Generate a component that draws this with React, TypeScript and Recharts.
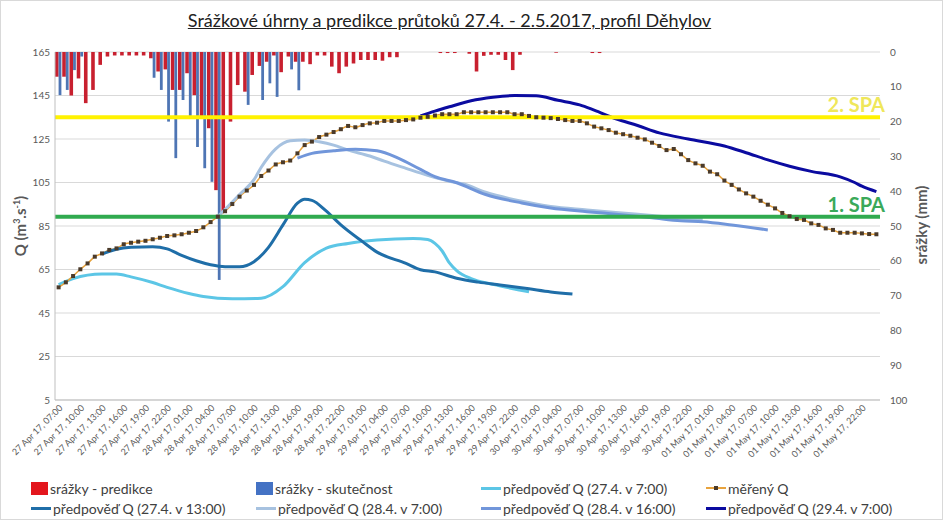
import { ComposedChart, Bar, Line, XAxis, YAxis, CartesianGrid, ReferenceLine } from 'recharts';

// hourly categories starting 27.4. 7:00, ending 2.5. 0:00
const DAYS = ['27 Apr 17', '28 Apr 17', '29 Apr 17', '30 Apr 17', '01 May 17', '02 May 17'];
const FIRST_HOUR = 7;
const HOURS = 114;

// srážky - predikce (mm), one value per hour
const RAIN_FORECAST = [
  7.1, 7.1, 12.5, 7.6, 14.7, 10.9, 3.7, 1.3, 1, 1,
  1, 1, 1, 1.8, 5.6, 5, 10.9, 10.9, 6.1, 12.4,
  18.4, 21.9, 39.7, 45.9, 20, 9.5, 11.4, 6.6, 4, 2.8,
  1, 5.8, 1.3, 2.8, 2.8, 3.5, 1, 1, 4.2, 6.1,
  4.2, 3.3, 2.3, 2.3, 2.3, 2.5, 1.5, 1.5, 0, 0,
  0, 0, 0, 0.3, 0.3, 0.3, 0, 0.5, 5.6, 1.1,
  0.8, 0.8, 2.3, 5.2, 0.8, 0, 0, 0, 0, 0.2,
  0, 0, 0, 0, 0.3, 0.3
];

// srážky - skutečnost (mm)
const RAIN_OBSERVED = [
  12.4, 10.9, 5.2, 1.3, 0, 0, 0, 0, 0, 0,
  0, 0, 0, 7.4, 10.9, 20, 30.5, 13.8, 18.4, 27.3,
  33.4, 37.3, 65.5, 0, 0, 0, 15.2, 0, 13.8, 9,
  12.9, 0, 5, 11
];

// měřený Q (m3/s), hourly
const Q_MEASURED = [
  56.8, 59.1, 62.0, 65.1, 67.8, 70.9, 72.4, 74.0, 74.7, 76.6,
  77.3, 77.8, 78.2, 78.9, 79.6, 80.4, 80.7, 81.2, 81.9, 82.7,
  84.4, 86.8, 89.3, 91.8, 95.1, 98.5, 101.3, 103.9, 108.0, 110.5,
  113.3, 114.3, 115.1, 118.4, 122.2, 123.8, 125.9, 127.0, 128.2, 129.5,
  131.0, 130.4, 131.4, 132.2, 132.5, 133.3, 133.3, 133.3, 133.7, 134.0,
  134.8, 135.2, 135.8, 136.4, 136.4, 136.4, 137.3, 137.3, 137.3, 137.3,
  137.3, 137.3, 137.3, 136.4, 136.4, 135.6, 135.0, 134.8, 134.6, 134.2,
  133.7, 133.3, 133.3, 132.2, 130.7, 129.9, 129.1, 127.9, 127.2, 126.5,
  125.6, 124.8, 123.3, 121.8, 119.9, 120.4, 118.0, 115.3, 113.8, 112.7,
  110.0, 108.8, 105.9, 103.9, 101.8, 100.0, 98.5, 96.6, 94.8, 93.1,
  91.0, 89.5, 88.2, 87.8, 86.2, 85.5, 83.9, 83.2, 81.9, 81.9,
  81.9, 81.6, 81.3, 81.2
];

// forecasts as [hour index, Q]
const Q_2704_07 = [
  [0, 58.1], [2, 60.8], [6, 62.9], [8, 62.9], [10, 61.6], [13, 59], [15, 56.8], [18, 54], [20, 52.6],
  [24, 51.5], [28, 51.8], [31, 57.1], [34, 68.2], [37, 74.8], [40, 77], [44, 78.6], [49, 79.3],
  [51, 78.8], [52, 77], [53, 73.5], [54, 68], [55, 64.5], [57, 60.8], [60, 58.2], [65, 54.8]
];
const Q_2704_13 = [
  [6, 72.1], [8, 74.3], [10, 75.2], [13, 75.5], [15, 74.5], [17, 71.5], [19, 69], [21, 67.2], [23, 66.3],
  [25, 66.3], [27, 68.6], [29, 75.2], [31, 85.5], [33, 95.5], [34, 97.3], [35, 96.8], [37, 91.8],
  [39, 85.5], [42, 77.8], [44, 73], [48, 67.8], [50, 64.9], [52, 63.9], [55, 61], [58, 59.2],
  [61, 57.9], [65, 56.1], [68, 54.7], [71, 53.7]
];
const Q_2804_07 = [
  [22, 89.3], [24, 96], [25, 99.5], [27, 106.3], [28, 112], [30, 120.5], [32, 124.2], [34, 124.5],
  [36, 123.7], [38, 122.2], [40, 119.9], [43, 117.2], [45, 114.8], [48, 111.5], [51, 108.3],
  [54, 105.6], [56, 104.3], [59, 100.5], [64, 96.4], [68, 94], [73, 92.4], [77, 91.2], [82, 89.8],
  [86, 88.6], [89, 88]
];
const Q_2804_16 = [
  [33, 116.2], [35, 118.4], [38, 119.6], [41, 120.3], [44, 119.6], [47, 116.1], [50, 111], [52, 107.7],
  [55, 104.9], [59, 99.5], [64, 95.6], [68, 93.3], [73, 91.6], [77, 90.4], [82, 88.8], [86, 87.4],
  [89, 87], [93, 85.5], [98, 83.2]
];
const Q_2904_07 = [
  [50, 135.6], [52, 137.8], [54, 139.8], [57, 142.6], [60, 144.2], [63, 145], [66, 144.9], [69, 142.8],
  [72, 140.7], [74, 138.3], [77, 134.3], [80, 131.2], [83, 127.8], [87, 125], [92, 121.8], [95, 118.7],
  [98, 115.4], [101, 112.5], [104, 110.1], [108, 107.6], [110, 105], [111, 103.3], [113, 100.8]
];

const SPA_1 = 89.3;
const SPA_2 = 135;

const Q_TICKS = [5, 25, 45, 65, 85, 105, 125, 145, 165];
const RAIN_TICKS = [0, 10, 20, 30, 40, 50, 60, 70, 80, 90, 100];

const C = {
  red: '#c8202f',
  blue: '#4e75b4',
  a: '#5cc6e6',
  b: '#1f6ea8',
  c: '#a7c2e0',
  d: '#7196da',
  e: '#0b0ba0',
  m: '#e8a33d',
  mDot: '#4a3a2a',
  spa1: '#30aa4f',
  spa2: '#fff200'
};

const pick = (pts: number[][]) => {
  const m = new Map(pts.map(([i, v]) => [i, v]));
  return (i: number) => (m.has(i) ? m.get(i) : null);
};
const qa = pick(Q_2704_07);
const qb = pick(Q_2704_13);
const qc = pick(Q_2804_07);
const qd = pick(Q_2804_16);
const qe = pick(Q_2904_07);

const categories = Array.from({ length: HOURS }, (_, i) => {
  const h = FIRST_HOUR + i;
  return `${DAYS[Math.floor(h / 24)]}, ${String(h % 24).padStart(2, '0')}:00`;
});

const data = categories.map((t, i) => ({
  t,
  red: RAIN_FORECAST[i] || null,
  blue: RAIN_OBSERVED[i] || null,
  m: Q_MEASURED[i],
  a: qa(i),
  b: qb(i),
  c: qc(i),
  d: qd(i),
  e: qe(i)
}));

const squareDot = (p: any) =>
  p.cy == null ? <g key={`m${p.index}`} /> : (
    <rect key={`m${p.index}`} x={p.cx - 2} y={p.cy - 2} width={4} height={4} fill={C.mDot} />
  );

const spaLabel = (text: string, color: string) => (p: any) => (
  <text x={p.viewBox.x + p.viewBox.width + 5} y={p.viewBox.y - 5} textAnchor="end" fill={color}
    fontSize={20} fontWeight={700}>{text}</text>
);

function Marker({ kind, color }: { kind: string; color: string }) {
  if (kind === 'box') return <span style={{ display: 'inline-block', width: 17, height: 13, background: color }} />;
  return (
    <span style={{ position: 'relative', display: 'inline-block', width: 20, height: 13 }}>
      <span style={{ position: 'absolute', left: 0, right: 0, top: 5, height: kind === 'dot' ? 2 : 3, background: color }} />
      {kind === 'dot' && <span style={{ position: 'absolute', left: 8, top: 4, width: 4, height: 4, background: C.mDot }} />}
    </span>
  );
}

const LEGEND = [
  { label: 'srážky - predikce', kind: 'box', color: '#e3161d' },
  { label: 'srážky - skutečnost', kind: 'box', color: '#4472c4' },
  { label: 'předpověď Q (27.4. v 7:00)', kind: 'line', color: C.a },
  { label: 'měřený Q', kind: 'dot', color: C.m },
  { label: 'předpověď Q (27.4. v 13:00)', kind: 'line', color: C.b },
  { label: 'předpověď Q (28.4. v 7:00)', kind: 'line', color: C.c },
  { label: 'předpověď Q (28.4. v 16:00)', kind: 'line', color: C.d },
  { label: 'předpověď Q (29.4. v 7:00)', kind: 'line', color: C.e }
];
const LEGEND_X = [31, 256, 481, 706];
const LEGEND_Y = [480, 500];

export default function App() {
  return (
    <div style={{ position: 'absolute', left: 0, top: 0, width: 943, height: 520, background: '#fff', fontFamily: 'Lato, sans-serif' }}>
      <div style={{ position: 'absolute', left: -22, top: 9, width: 943, textAlign: 'center', fontSize: 18, color: '#222', textDecoration: 'underline' }}>
        Srážkové úhrny a predikce průtoků 27.4. - 2.5.2017, profil Děhylov
      </div>
      <ComposedChart width={943} height={520} data={data} margin={{ top: 52, right: 0, bottom: 60, left: 0 }}
        barGap={0} barCategoryGap="8%">
        <CartesianGrid yAxisId="q" vertical={false} stroke="#d9d9d9" />
        <XAxis dataKey="t" interval={2} angle={-45} textAnchor="end" height={60} tickLine={false} tickSize={0}
          tickMargin={4} tick={{ fontSize: 9, fill: '#595959' }} axisLine={{ stroke: '#bfbfbf' }} />
        <YAxis yAxisId="q" domain={[5, 165]} ticks={Q_TICKS} width={55} tickLine={false} tickSize={0} tickMargin={5}
          tick={{ fontSize: 10, fill: '#595959' }} axisLine={{ stroke: '#bfbfbf' }} allowDataOverflow />
        <YAxis yAxisId="r" orientation="right" reversed domain={[0, 100]} ticks={RAIN_TICKS} width={63}
          tickLine={false} tickSize={0} tickMargin={10} axisLine={false} tick={{ fontSize: 10, fill: '#595959' }} />
        <Bar yAxisId="r" dataKey="red" fill={C.red} barSize={3.6} isAnimationActive={false} />
        <Bar yAxisId="r" dataKey="blue" fill={C.blue} barSize={2.8} isAnimationActive={false} />
        <Line yAxisId="q" dataKey="a" type="monotone" stroke={C.a} strokeWidth={3} dot={false} activeDot={false} connectNulls isAnimationActive={false} />
        <Line yAxisId="q" dataKey="m" type="monotone" stroke={C.m} strokeWidth={1.5} dot={squareDot} activeDot={false} isAnimationActive={false} />
        <Line yAxisId="q" dataKey="b" type="monotone" stroke={C.b} strokeWidth={3} dot={false} activeDot={false} connectNulls isAnimationActive={false} />
        <Line yAxisId="q" dataKey="c" type="monotone" stroke={C.c} strokeWidth={3} dot={false} activeDot={false} connectNulls isAnimationActive={false} />
        <Line yAxisId="q" dataKey="d" type="monotone" stroke={C.d} strokeWidth={3} dot={false} activeDot={false} connectNulls isAnimationActive={false} />
        <Line yAxisId="q" dataKey="e" type="monotone" stroke={C.e} strokeWidth={3} dot={false} activeDot={false} connectNulls isAnimationActive={false} />
        <ReferenceLine yAxisId="q" y={SPA_2} stroke={C.spa2} strokeWidth={4} label={spaLabel('2. SPA', '#efe75a')} />
        <ReferenceLine yAxisId="q" y={SPA_1} stroke={C.spa1} strokeWidth={4} label={spaLabel('1. SPA', '#3aa95a')} />
      </ComposedChart>
      <div style={{ position: 'absolute', left: -40, top: 217, width: 120, textAlign: 'center', transform: 'rotate(-90deg)',
        fontSize: 15, fontWeight: 700, color: '#595959' }}>
        Q (m<sup style={{ fontSize: 9 }}>3</sup>.s<sup style={{ fontSize: 9 }}>-1</sup>)
      </div>
      <div style={{ position: 'absolute', left: 861, top: 216, width: 120, textAlign: 'center', transform: 'rotate(-90deg)',
        fontSize: 15, fontWeight: 700, color: '#595959' }}>
        srážky (mm)
      </div>
      {LEGEND.map((it, k) => (
        <div key={it.label} style={{ position: 'absolute', left: LEGEND_X[k % 4], top: LEGEND_Y[Math.floor(k / 4)],
          display: 'flex', alignItems: 'center', gap: 2, fontSize: 14, color: '#404040', whiteSpace: 'nowrap' }}>
          <Marker kind={it.kind} color={it.color} />
          <span>{it.label}</span>
        </div>
      ))}
      <div style={{ position: 'absolute', left: 0, top: 0, width: 943, height: 520, boxSizing: 'border-box',
        border: '1px solid #d9d9d9', pointerEvents: 'none' }} />
    </div>
  );
}
